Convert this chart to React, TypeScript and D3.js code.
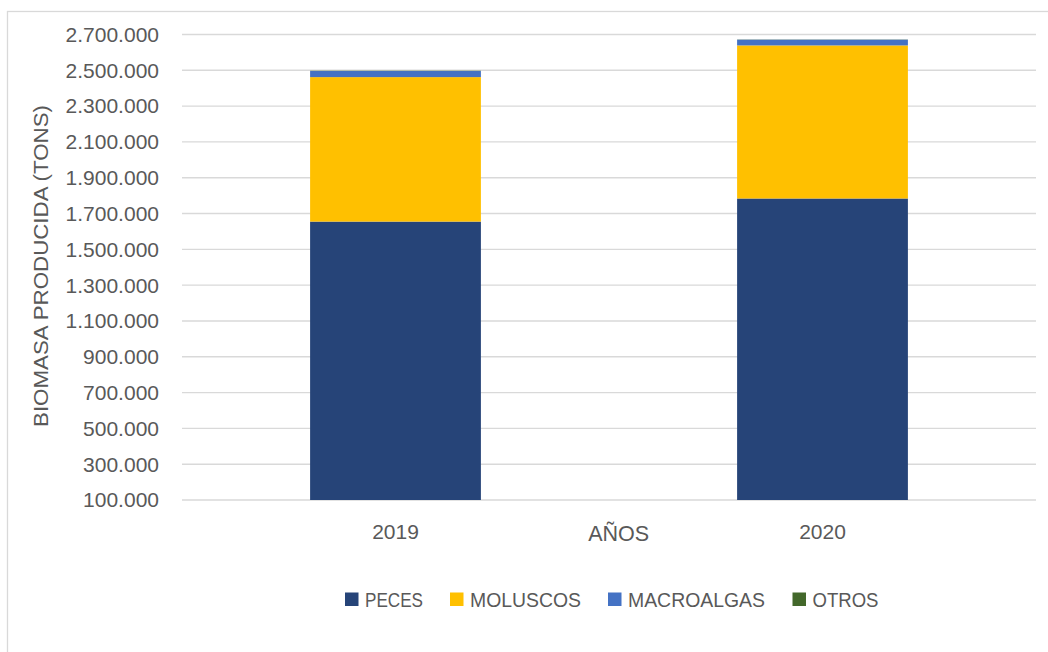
import React from "react";
import * as d3 from "d3";

const years = ["2019", "2020"];
const series = ["PECES", "MOLUSCOS", "MACROALGAS", "OTROS"];
const peces = [1655000, 1784000];
const moluscos = [807000, 855000];
const macroalgas = [34000, 32000];
const otros = [1500, 1200];
const colors = ["#264478", "#FFC000", "#4472C4", "#43682B"];
const yTicks = [100000, 300000, 500000, 700000, 900000, 1100000, 1300000, 1500000, 1700000, 1900000, 2100000, 2300000, 2500000, 2700000];
const legendTextWidths = [58, 111, 137, 66];

const W = 1048;
const H = 652;
const FONT = "'Liberation Sans', Arial, sans-serif";

export default function App() {
  const rows = years.map((y, i) => ({
    year: y,
    PECES: peces[i],
    MOLUSCOS: moluscos[i],
    MACROALGAS: macroalgas[i],
    OTROS: otros[i],
  }));
  const stacked = d3.stack<any>().keys(series)(rows);

  const x = d3.scaleBand().domain(years).range([182, 1036]).paddingInner(0.6).paddingOuter(0.3);
  const y = d3.scaleLinear().domain([100000, 2700000]).range([500, 34.5]);
  const fmt = (v: number) => d3.format(",")(v).replace(/,/g, ".");
  const yMin = y.domain()[0];

  const legendX = [345, 450, 608, 792.5];

  return (
    <svg
      width={W}
      height={H}
      style={{ position: "absolute", left: 0, top: 0, background: "#fff" }}
      fontFamily={FONT}
    >
      <rect x={7.5} y={11.5} width={1045} height={650} fill="#fff" stroke="#d9d9d9" strokeWidth={1.3} />
      {yTicks.map((t) => (
        <g key={t}>
          <line x1={182} x2={1036} y1={y(t)} y2={y(t)} stroke="#d9d9d9" strokeWidth={1.4} />
          <text x={159} y={y(t)} dy="0.35em" textAnchor="end" fontSize={21} fill="#595959">
            {fmt(t)}
          </text>
        </g>
      ))}
      {stacked.map((s, si) => (
        <g key={s.key} fill={colors[si]}>
          {s.map((d, i) => {
            const lo = Math.max(d[0], yMin);
            const hi = d[1];
            if (hi <= lo) return null;
            return (
              <rect
                key={i}
                x={x(years[i])}
                width={x.bandwidth()}
                y={y(hi)}
                height={y(lo) - y(hi)}
              />
            );
          })}
        </g>
      ))}
      {years.map((yr) => (
        <text
          key={yr}
          x={(x(yr) as number) + x.bandwidth() / 2}
          y={532}
          dy="0.35em"
          textAnchor="middle"
          fontSize={21}
          fill="#595959"
        >
          {yr}
        </text>
      ))}
      <text x={618.7} y={533} dy="0.35em" textAnchor="middle" fontSize={22} fill="#595959" textLength={61} lengthAdjust="spacingAndGlyphs">
        AÑOS
      </text>
      <text
        transform="translate(41,266) rotate(-90)"
        textAnchor="middle"
        dy="0.35em"
        fontSize={20}
        fill="#595959"
        textLength={322}
        lengthAdjust="spacingAndGlyphs"
      >
        BIOMASA PRODUCIDA (TONS)
      </text>
      {series.map((s, i) => (
        <g key={s}>
          <rect x={legendX[i]} y={592.5} width={13.5} height={13.5} fill={colors[i]} />
          <text
            x={legendX[i] + 20}
            y={599.5}
            dy="0.35em"
            fontSize={20}
            fill="#595959"
            textLength={legendTextWidths[i]}
            lengthAdjust="spacingAndGlyphs"
          >
            {s}
          </text>
        </g>
      ))}
    </svg>
  );
}
